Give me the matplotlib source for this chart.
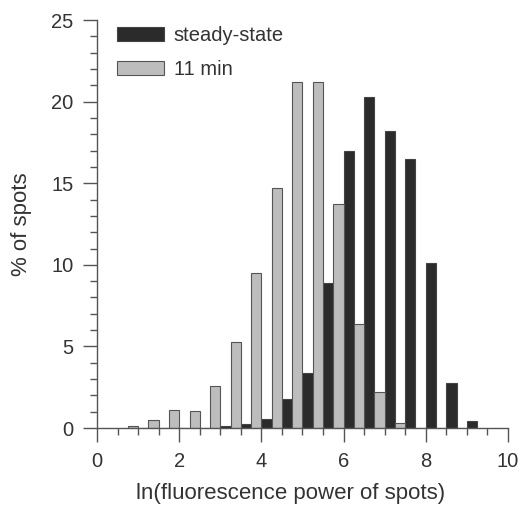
import matplotlib.pyplot as plt
import numpy as np
from matplotlib.ticker import MultipleLocator

plt.rcParams["font.family"] = ["Liberation Sans", "DejaVu Sans"]

# bin positions (ln of fluorescence power)
bins = [1.0, 1.5, 2.0, 2.5, 3.0, 3.5, 4.0, 4.5, 5.0,
        5.5, 6.0, 6.5, 7.0, 7.5, 8.0, 8.5, 9.0]
steady_state = [0, 0, 0, 0, 0.1, 0.25, 0.55, 1.8, 3.4,
                8.9, 17.0, 20.3, 18.2, 16.5, 10.1, 2.75, 0.4]
min11 = [0.1, 0.5, 1.1, 1.05, 2.6, 5.3, 9.5, 14.7, 21.2,
         21.2, 13.7, 6.4, 2.2, 0.3, 0, 0, 0]

txt = "#333333"
w = 0.25
x = np.array(bins)

fig = plt.figure(figsize=(5.22, 5.16), dpi=100)
ax = fig.add_axes([0.186, 0.1705, 0.787, 0.7905])

ax.bar(x + w / 2, steady_state, width=w, color="#2b2b2b",
       edgecolor="#444444", linewidth=0.8, label="steady-state")
ax.bar(x - w / 2, min11, width=w, color="#bdbdbd",
       edgecolor="#555555", linewidth=0.8, label="11 min")

ax.set_xlim(0, 10)
ax.set_ylim(0, 25)
ax.spines["top"].set_visible(False)
ax.spines["right"].set_visible(False)
for s in ("left", "bottom"):
    ax.spines[s].set_color("#555555")
    ax.spines[s].set_linewidth(1.0)

ax.xaxis.set_major_locator(MultipleLocator(2))
ax.xaxis.set_minor_locator(MultipleLocator(0.5))
ax.yaxis.set_major_locator(MultipleLocator(5))
ax.yaxis.set_minor_locator(MultipleLocator(1))
ax.tick_params(which="major", length=10, width=1.0, color="#555555",
               labelsize=14.5, labelcolor=txt, pad=7)
ax.tick_params(which="minor", length=5, width=1.0, color="#555555")

ax.set_xlabel("ln(fluorescence power of spots)", fontsize=16, color=txt,
              labelpad=9, x=0.47)
ax.set_ylabel("% of spots", fontsize=16, color=txt, labelpad=14)

ax.legend(loc="upper left", bbox_to_anchor=(0.005, 1.03), frameon=False,
          fontsize=14.5, handlelength=2.3, handleheight=0.75,
          labelspacing=0.75, handletextpad=0.5, labelcolor=txt)

plt.savefig("out.png", dpi=100)
